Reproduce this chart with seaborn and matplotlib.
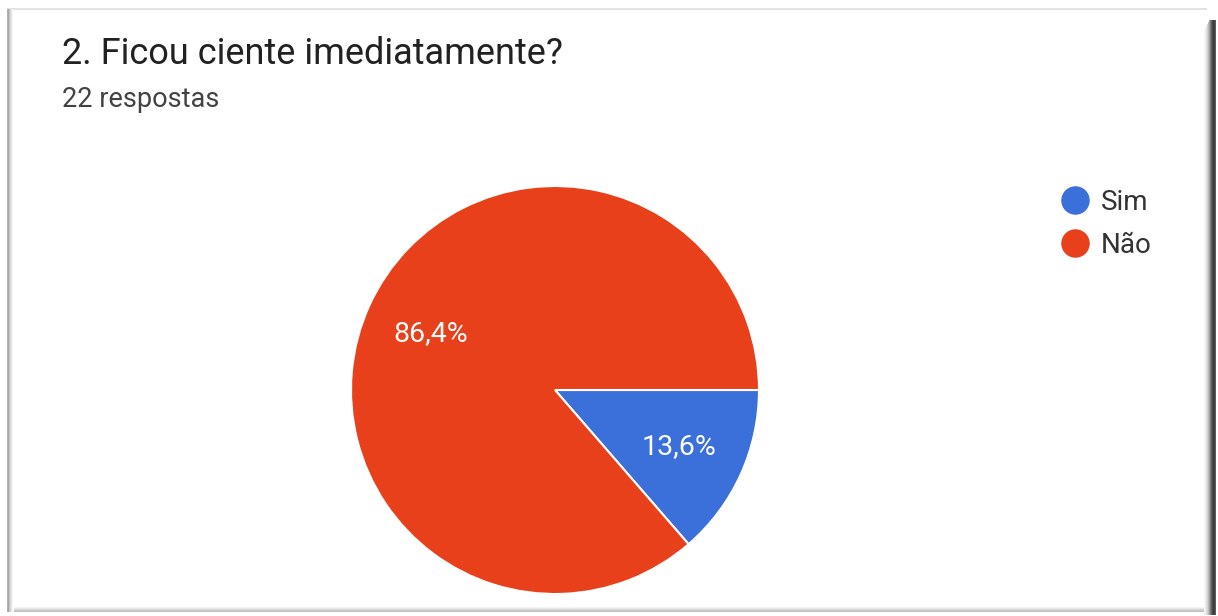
import matplotlib
matplotlib.use("Agg")
import matplotlib.pyplot as plt
import seaborn as sns
from matplotlib.patches import Rectangle
from matplotlib.lines import Line2D

# ---- data ----
title = "2. Ficou ciente imediatamente?"
subtitle = "22 respostas"
categories = ["Sim", "Não"]
counts = [3, 19]
colors = ["#3b6fd9", "#e8401a"]

sns.set_theme(style="white")
plt.rcParams["font.family"] = ["Roboto", "DejaVu Sans"]

W, H = 1218, 616
fig = plt.figure(figsize=(W / 100, H / 100), dpi=100)
fig.patch.set_facecolor("white")

def px(x0, y0, w, h, color):
    fig.add_artist(Rectangle((x0 / W, 1 - (y0 + h) / H), w / W, h / H,
                             transform=fig.transFigure, facecolor=color,
                             edgecolor="none", zorder=0))

# card frame / shadow
px(7, 8, 1200, 1.5, "#e2e2e2")
for i, c in enumerate(["#b0b0b0", "#a8a8a8", "#c4c4c4", "#d8d8d8", "#e8e8e8", "#f4f4f4"]):
    px(7 + i, 9, 1, 603, c)
for i, c in enumerate(["#f6f6f6", "#eeeeee", "#e2e2e2", "#d2d2d2", "#bcbcbc", "#a0a0a0",
                       "#808080", "#606060", "#4a4a4a", "#3c3c3c", "#444444", "#5a5a5a"]):
    px(1204 + i, 20 + max(0, 5 - i) * 2, 1, 595 - max(0, 5 - i) * 2, c)
for i, c in enumerate(["#f4f4f4", "#e8e8e8", "#d8d8d8", "#c8c8c8", "#c0c0c0"]):
    px(14, 607 + i, 1190, 1, c)

# pie
cx, cy, r = 555, 390, 204
ax = fig.add_axes([(cx - r) / W, (H - cy - r) / H, 2 * r / W, 2 * r / H])
fmt = lambda p: (f"{p:.1f}%").replace(".", ",")
wedges, texts, autotexts = ax.pie(
    counts, colors=colors, startangle=0, counterclock=False,
    autopct=fmt, pctdistance=0.67,
    wedgeprops=dict(edgecolor="white", linewidth=1.5),
    textprops=dict(color="white", fontsize=20.5))
ax.set_xlim(-1, 1)
ax.set_ylim(-1, 1)
ax.set_aspect("equal")
ax.axis("off")

# titles
fig.text(62 / W, 1 - 64 / H, title, fontsize=26, color="#212121", va="baseline", ha="left")
fig.text(62 / W, 1 - 107 / H, subtitle, fontsize=19.5, color="#424242", va="baseline", ha="left")

# legend
handles = [Line2D([], [], marker="o", linestyle="none", markersize=19.5,
                  markerfacecolor=c, markeredgecolor=c) for c in colors]
leg = fig.legend(handles, categories, loc="upper left",
                 bbox_to_anchor=(1061 / W, 1 - 189 / H), frameon=False,
                 fontsize=20, handletextpad=0.42, labelspacing=0.56,
                 handlelength=1.0, borderaxespad=0, borderpad=0)
for t in leg.get_texts():
    t.set_color("#333333")

fig.savefig("out.png", dpi=100, facecolor="white")
